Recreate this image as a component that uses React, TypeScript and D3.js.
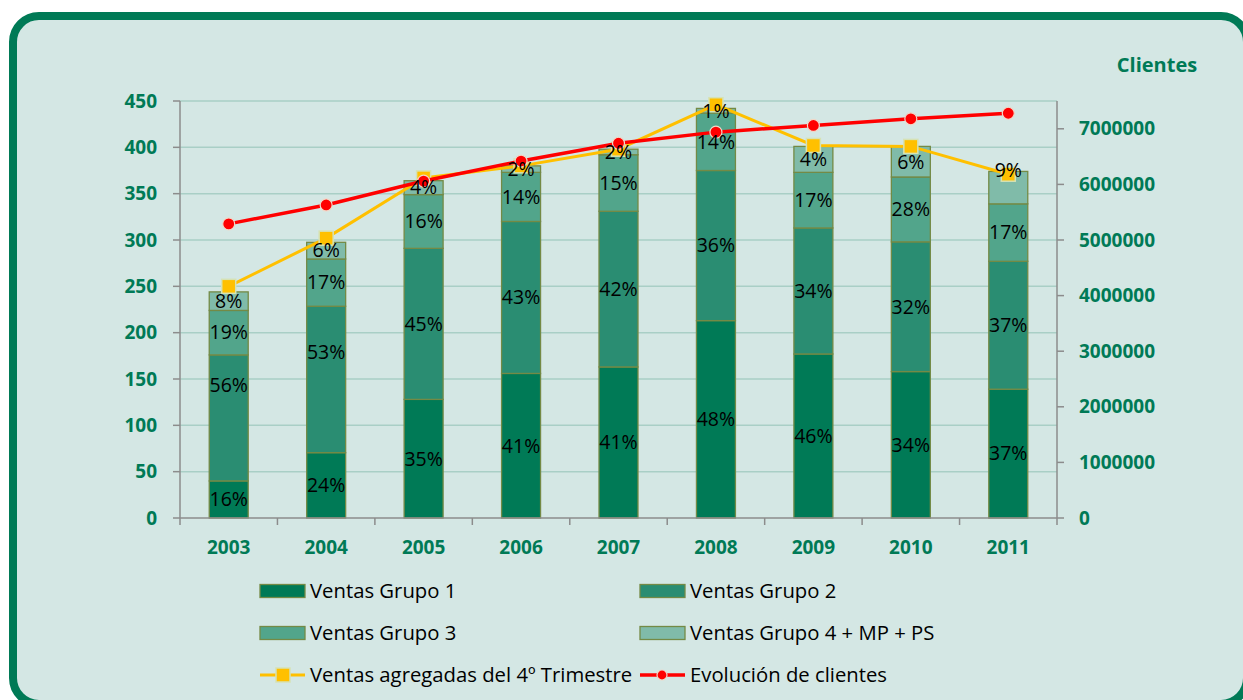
import * as d3 from 'd3';
import React from 'react';

const years = ['2003', '2004', '2005', '2006', '2007', '2008', '2009', '2010', '2011'];

// stacked sales (left axis)
const grupo1 = [40, 70.5, 128, 156, 163, 213, 177, 158, 139];
const grupo2 = [136, 158, 163, 164, 168, 162, 136, 140, 138];
const grupo3 = [48, 51, 58, 53, 61, 62, 60, 70, 62];
const grupo4 = [20, 18, 15, 7, 6, 5, 28, 33, 35];

// percentage labels as printed on the bars
const pct1 = ['16%', '24%', '35%', '41%', '41%', '48%', '46%', '34%', '37%'];
const pct2 = ['56%', '53%', '45%', '43%', '42%', '36%', '34%', '32%', '37%'];
const pct3 = ['19%', '17%', '16%', '14%', '15%', '14%', '17%', '28%', '17%'];
const pct4 = ['8%', '6%', '4%', '2%', '2%', '1%', '4%', '6%', '9%'];

// lines
const ventas4T = [250, 302, 367, 380, 398, 446, 402, 401, 371];
const clientes = [5290000, 5630000, 6060000, 6420000, 6740000, 6940000, 7060000, 7180000, 7280000];

const leftTicks = [0, 50, 100, 150, 200, 250, 300, 350, 400, 450];
const rightTicks = [0, 1000000, 2000000, 3000000, 4000000, 5000000, 6000000, 7000000];

const seriesNames = ['Ventas Grupo 1', 'Ventas Grupo 2', 'Ventas Grupo 3', 'Ventas Grupo 4 + MP + PS'];
const lineNames = ['Ventas agregadas del 4º Trimestre', 'Evolución de clientes'];

const colors = ['#007A56', '#2A8D72', '#52A58B', '#80BBA9'];
const GREEN = '#007A56';
const FONT = '"Open Sans", sans-serif';

// a few labels in the original were dragged off the segment centre (px)
const labelNudge: Record<string, number> = { '1-0': -33, '1-1': -27, '3-8': -17 };

export default function App() {
  const left = 180;
  const right = 1057;
  const top = 101;
  const bottom = 518;

  const x = d3.scaleBand<string>().domain(years).range([left, right]).padding(0);
  const y = d3.scaleLinear().domain([0, 450]).range([bottom, top]);
  const y2 = d3.scaleLinear().domain([0, 7500000]).range([bottom, top]);
  const barW = x.bandwidth() * 0.4;
  const cx = (yr: string) => (x(yr) as number) + x.bandwidth() / 2;

  const groups = [grupo1, grupo2, grupo3, grupo4];
  const labels = [pct1, pct2, pct3, pct4];
  const table = years.map((yr, i) => {
    const row: any = { year: yr };
    groups.forEach((g, k) => (row['g' + k] = g[i]));
    return row;
  });
  const stacked = d3.stack<any>().keys(['g0', 'g1', 'g2', 'g3'])(table);

  const yellowLine = d3
    .line<number>()
    .x((_, i) => cx(years[i]))
    .y(d => y(d));
  const redLine = d3
    .line<number>()
    .x((_, i) => cx(years[i]))
    .y(d => y2(d));

  return (
    <div style={{ position: 'absolute', left: 0, top: 0 }}>
      <svg width={1243} height={700} style={{ display: 'block', fontFamily: FONT }}>
        <rect x={0} y={0} width={1243} height={700} fill="#ffffff" />
        <rect x={13} y={16} width={1234} height={688} rx={26} ry={26} fill="#D4E7E4" stroke={GREEN} strokeWidth={8} />

        {/* grid */}
        {leftTicks.slice(1).map(t => (
          <line key={t} x1={left} x2={right} y1={y(t)} y2={y(t)} stroke="#A9CFC6" strokeWidth={1.5} />
        ))}

        {/* bars */}
        {stacked.map((s, k) =>
          s.map((d, i) => (
            <rect
              key={k + '-' + i}
              x={cx(years[i]) - barW / 2}
              y={y(d[1])}
              width={barW}
              height={y(d[0]) - y(d[1])}
              fill={colors[k]}
              stroke="#748A45"
              strokeWidth={1.3}
            />
          ))
        )}

        {/* axes */}
        <line x1={left} x2={left} y1={top} y2={bottom} stroke="#8C8C8C" strokeWidth={1.5} />
        <line x1={right} x2={right} y1={top} y2={bottom} stroke="#8C8C8C" strokeWidth={1.5} />
        <line x1={left} x2={right} y1={bottom} y2={bottom} stroke="#8C8C8C" strokeWidth={1.5} />
        {leftTicks.map(t => (
          <g key={'l' + t}>
            <line x1={left - 7} x2={left} y1={y(t)} y2={y(t)} stroke="#8C8C8C" strokeWidth={1.5} />
            <text x={157} y={y(t)} dy="0.35em" textAnchor="end" fontSize={19} fontWeight="bold" fill={GREEN}>
              {t}
            </text>
          </g>
        ))}
        {rightTicks.map(t => (
          <g key={'r' + t}>
            <line x1={right} x2={right + 7} y1={y2(t)} y2={y2(t)} stroke="#8C8C8C" strokeWidth={1.5} />
            <text x={1079} y={y2(t)} dy="0.35em" textAnchor="start" fontSize={19} fontWeight="bold" fill={GREEN}>
              {t}
            </text>
          </g>
        ))}
        {years.concat(['end']).map((yr, i) => {
          const xx = i < years.length ? (x(yr) as number) : right;
          return <line key={'t' + i} x1={xx} x2={xx} y1={bottom} y2={bottom + 7} stroke="#8C8C8C" strokeWidth={1.5} />;
        })}
        {years.map(yr => (
          <text key={'x' + yr} x={cx(yr)} y={547} dy="0.35em" textAnchor="middle" fontSize={19} fontWeight="bold" fill={GREEN}>
            {yr}
          </text>
        ))}
        <text x={1157} y={65} dy="0.35em" textAnchor="middle" fontSize={20} fontWeight="bold" fill={GREEN}>
          Clientes
        </text>

        {/* lines */}
        <path d={yellowLine(ventas4T) as string} fill="none" stroke="#FFC000" strokeWidth={3} />
        {ventas4T.map((v, i) => (
          <rect key={'ym' + i} x={cx(years[i]) - 7} y={y(v) - 7} width={14} height={14} fill="#FFC000" stroke="#D6E2B4" strokeWidth={1.5} />
        ))}
        <path d={redLine(clientes) as string} fill="none" stroke="#FF0000" strokeWidth={3.5} />
        {clientes.map((v, i) => (
          <circle key={'rm' + i} cx={cx(years[i])} cy={y2(v)} r={6} fill="#FF0000" stroke="#F0D8C8" strokeWidth={1.2} />
        ))}

        {/* labels */}
        {stacked.map((s, k) =>
          s.map((d, i) => (
            <text
              key={'lab' + k + '-' + i}
              x={cx(years[i])}
              y={(y(d[0]) + y(d[1])) / 2 + (labelNudge[k + '-' + i] || 0)}
              dy="0.35em"
              textAnchor="middle"
              fontSize={19.5}
              fill="#000"
            >
              {labels[k][i]}
            </text>
          ))
        )}

        {/* legend */}
        {seriesNames.map((n, k) => {
          const lx = k % 2 === 0 ? 260 : 640;
          const ly = 591 + Math.floor(k / 2) * 42;
          return (
            <g key={n}>
              <rect x={lx} y={ly - 6.5} width={45} height={13} fill={colors[k]} stroke="#748A45" strokeWidth={1.3} />
              <text x={lx + 50} y={ly} dy="0.35em" fontSize={20.3} fill="#000">
                {n}
              </text>
            </g>
          );
        })}
        <g>
          <line x1={260} x2={305} y1={675} y2={675} stroke="#FFC000" strokeWidth={3} />
          <rect x={276} y={668} width={14} height={14} fill="#FFC000" stroke="#D6E2B4" strokeWidth={1.5} />
          <text x={310} y={675} dy="0.35em" fontSize={20.3} fill="#000">
            {lineNames[0]}
          </text>
          <line x1={640} x2={685} y1={675} y2={675} stroke="#FF0000" strokeWidth={3.5} />
          <circle cx={662} cy={675} r={5} fill="#FF0000" stroke="#F0D8C8" strokeWidth={1.2} />
          <text x={690} y={675} dy="0.35em" fontSize={20.3} fill="#000">
            {lineNames[1]}
          </text>
        </g>
      </svg>
    </div>
  );
}
